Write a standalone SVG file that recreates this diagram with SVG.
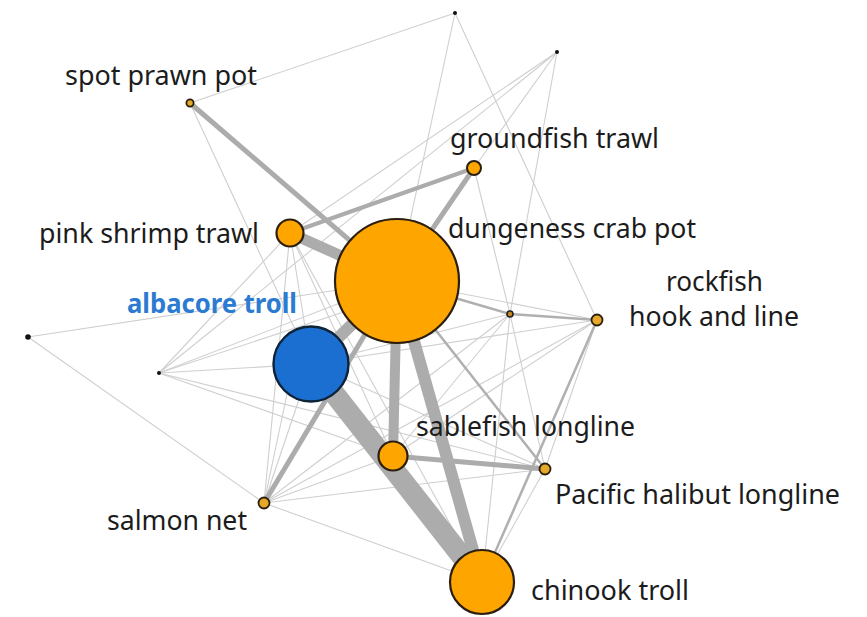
<svg xmlns="http://www.w3.org/2000/svg" width="867" height="617" viewBox="0 0 867 617">
<style>
.thin{stroke:#cfcfcf;stroke-width:1.1;fill:none}
.mid{stroke:#b0b0b0;stroke-width:2.5;fill:none}
.thick{stroke:#acacac;fill:none}
.node{fill:#FFA500;stroke:#2a1e0e;stroke-width:2.2}
.small{fill:#e6a828;stroke:#2a1e0e;stroke-width:1.8}
.dot{fill:#111}
.lbl{font-family:"Noto Sans","Open Sans",sans-serif;font-size:27px;fill:#1c1c1c}
.blue{font-family:"Noto Sans","Open Sans",sans-serif;font-size:27px;font-weight:bold;fill:#2b7bd2}
</style>
<rect width="867" height="617" fill="#fff"/>
<g id="connectors">
  <line class="thin" x1="190" y1="103" x2="455" y2="13"/>
  <line class="thin" x1="190" y1="103" x2="311" y2="364"/>
  <line class="thin" x1="455" y1="13" x2="397" y2="281"/>
  <line class="thin" x1="455" y1="13" x2="597" y2="320"/>
  <line class="thin" x1="557" y1="52" x2="290" y2="233"/>
  <line class="thin" x1="557" y1="52" x2="474" y2="168"/>
  <line class="thin" x1="557" y1="52" x2="510" y2="314"/>
  <line class="thin" x1="159" y1="373" x2="557" y2="52"/>
  <line class="thin" x1="474" y1="168" x2="510" y2="314"/>
  <line class="thin" x1="290" y1="233" x2="159" y2="373"/>
  <line class="thin" x1="290" y1="233" x2="264" y2="503"/>
  <line class="thin" x1="290" y1="233" x2="311" y2="364"/>
  <line class="thin" x1="290" y1="233" x2="393" y2="456"/>
  <line class="thin" x1="290" y1="233" x2="482" y2="582"/>
  <line class="thin" x1="28" y1="337" x2="397" y2="281"/>
  <line class="thin" x1="28" y1="337" x2="264" y2="503"/>
  <line class="thin" x1="159" y1="373" x2="397" y2="281"/>
  <line class="thin" x1="159" y1="373" x2="380" y2="300"/>
  <line class="thin" x1="159" y1="373" x2="311" y2="364"/>
  <line class="thin" x1="159" y1="373" x2="393" y2="456"/>
  <line class="thin" x1="159" y1="373" x2="545" y2="469"/>
  <line class="thin" x1="264" y1="503" x2="311" y2="364"/>
  <line class="thin" x1="264" y1="503" x2="290" y2="380"/>
  <line class="thin" x1="264" y1="503" x2="393" y2="456"/>
  <line class="thin" x1="264" y1="503" x2="545" y2="469"/>
  <line class="thin" x1="264" y1="503" x2="597" y2="320"/>
  <line class="thin" x1="264" y1="503" x2="482" y2="582"/>
  <line class="thin" x1="264" y1="503" x2="510" y2="314"/>
  <line class="thin" x1="311" y1="364" x2="510" y2="314"/>
  <line class="thin" x1="311" y1="364" x2="597" y2="320"/>
  <line class="thin" x1="311" y1="364" x2="545" y2="469"/>
  <line class="thin" x1="397" y1="281" x2="597" y2="320"/>
  <line class="thin" x1="510" y1="314" x2="545" y2="469"/>
  <line class="thin" x1="510" y1="314" x2="482" y2="582"/>
  <line class="thin" x1="510" y1="314" x2="393" y2="456"/>
  <line class="thin" x1="597" y1="320" x2="393" y2="456"/>
  <line class="thin" x1="597" y1="320" x2="545" y2="469"/>
  <line class="thin" x1="545" y1="469" x2="482" y2="582"/>
  <line class="mid" x1="397" y1="281" x2="510" y2="314"/>
  <line class="mid" x1="510" y1="314" x2="597" y2="320"/>
  <line class="mid" x1="597" y1="320" x2="482" y2="582"/>
  <line class="mid" x1="397" y1="281" x2="545" y2="469"/>
  <line class="thick" x1="190" y1="103" x2="397" y2="281" style="stroke-width:5"/>
  <line class="thick" x1="474" y1="168" x2="397" y2="281" style="stroke-width:5"/>
  <line class="thick" x1="290" y1="233" x2="474" y2="168" style="stroke-width:4"/>
  <line class="thick" x1="264" y1="503" x2="397" y2="281" style="stroke-width:5"/>
  <line class="thick" x1="393" y1="456" x2="545" y2="469" style="stroke-width:5"/>
  <line class="thick" x1="290" y1="233" x2="397" y2="281" style="stroke-width:11"/>
  <line class="thick" x1="397" y1="281" x2="393" y2="456" style="stroke-width:10"/>
  <line class="thick" x1="311" y1="364" x2="397" y2="281" style="stroke-width:12"/>
  <line class="thick" x1="397" y1="281" x2="482" y2="582" style="stroke-width:12"/>
  <line class="thick" x1="311" y1="364" x2="482" y2="582" style="stroke-width:21"/>
</g>
<g id="n-top"><circle class="dot" cx="455" cy="13" r="2"/></g>
<g id="n-topright"><circle class="dot" cx="557" cy="52" r="2"/></g>
<g id="n-left"><circle class="dot" cx="28" cy="337" r="2.8"/></g>
<g id="n-midleft"><circle class="dot" cx="159" cy="373" r="2"/></g>
<g id="n-small"><circle cx="510" cy="314" r="3" fill="#c98a20" stroke="#222" stroke-width="1.6"/></g>
<g id="spot-prawn-pot">
  <circle class="small" cx="190" cy="103" r="3.6"/>
  <text class="lbl" x="65" y="85" textLength="192" lengthAdjust="spacingAndGlyphs">spot prawn pot</text>
</g>
<g id="groundfish-trawl">
  <circle class="node" cx="474" cy="168" r="7" style="stroke-width:2"/>
  <text class="lbl" x="450" y="148" textLength="209" lengthAdjust="spacingAndGlyphs">groundfish trawl</text>
</g>
<g id="pink-shrimp-trawl">
  <circle class="node" cx="290" cy="233" r="13.5"/>
  <text class="lbl" x="39" y="243" textLength="220" lengthAdjust="spacingAndGlyphs">pink shrimp trawl</text>
</g>
<g id="dungeness-crab-pot">
  <circle class="node" cx="397" cy="281" r="62"/>
  <text class="lbl" x="448" y="238" textLength="248" lengthAdjust="spacingAndGlyphs">dungeness crab pot</text>
</g>
<g id="rockfish-hook-and-line">
  <circle class="small" cx="597" cy="320" r="5.5"/>
  <text class="lbl" x="666" y="291" textLength="97" lengthAdjust="spacingAndGlyphs">rockfish</text>
  <text class="lbl" x="629" y="326" textLength="170" lengthAdjust="spacingAndGlyphs">hook and line</text>
</g>
<g id="albacore-troll">
  <circle cx="311" cy="364" r="37.5" fill="#1b6fd0" stroke="#0e2238" stroke-width="2.4"/>
  <text class="blue" x="127" y="313" textLength="170" lengthAdjust="spacingAndGlyphs">albacore troll</text>
</g>
<g id="sablefish-longline">
  <circle class="node" cx="393" cy="456" r="14.5"/>
  <text class="lbl" x="416" y="436" textLength="219" lengthAdjust="spacingAndGlyphs">sablefish longline</text>
</g>
<g id="pacific-halibut-longline">
  <circle class="small" cx="545" cy="469" r="5.5"/>
  <text class="lbl" x="555" y="504" textLength="285" lengthAdjust="spacingAndGlyphs">Pacific halibut longline</text>
</g>
<g id="salmon-net">
  <circle class="small" cx="264" cy="503" r="5.5"/>
  <text class="lbl" x="107" y="530" textLength="140" lengthAdjust="spacingAndGlyphs">salmon net</text>
</g>
<g id="chinook-troll">
  <circle class="node" cx="482" cy="582" r="32"/>
  <text class="lbl" x="531" y="600" textLength="158" lengthAdjust="spacingAndGlyphs">chinook troll</text>
</g>
</svg>
